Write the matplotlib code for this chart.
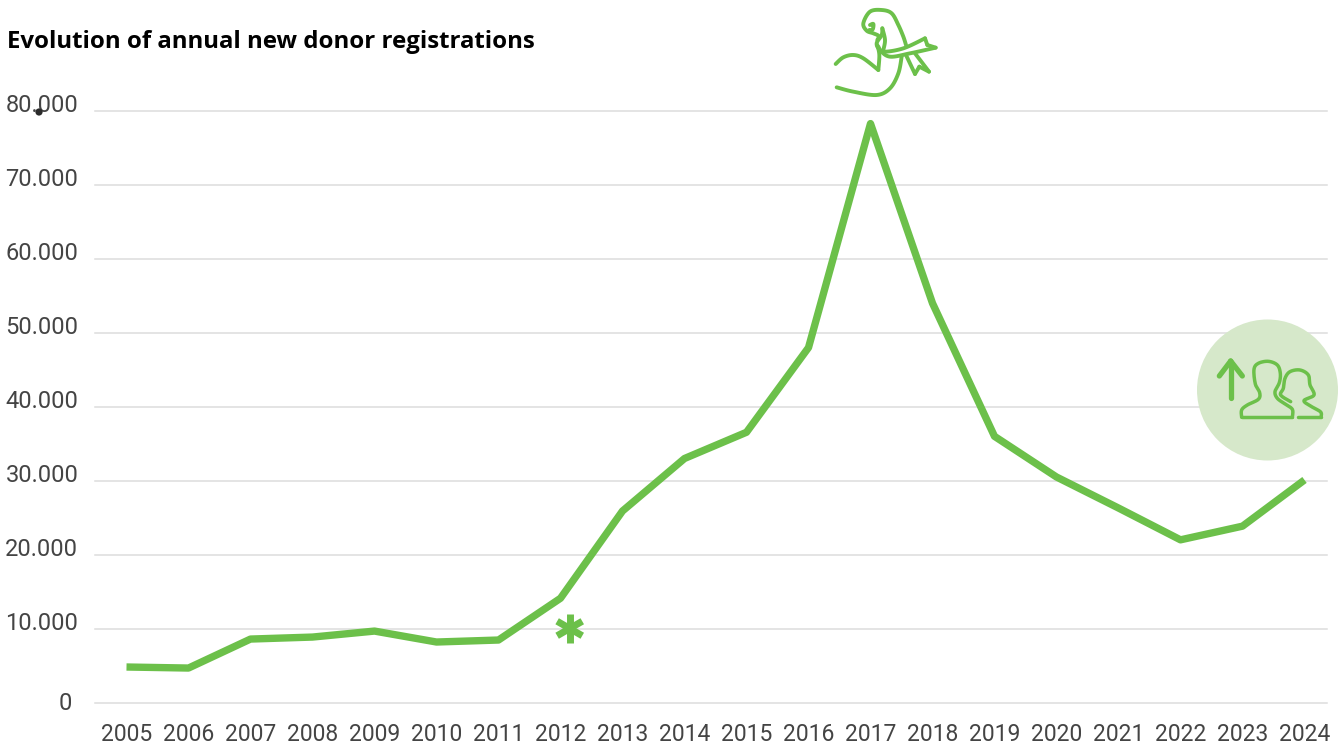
import matplotlib
matplotlib.use('Agg')
import matplotlib.pyplot as plt
import matplotlib.transforms as mtrans
from matplotlib.path import Path
from matplotlib.patches import PathPatch, Circle
import numpy as np

W, H = 1341, 747

# Daten
years = list(range(2005, 2025))
registrations = [4800, 4660, 8580, 8850, 9660, 8180, 8450, 14100, 25900, 33000,
                 36550, 48000, 78300, 54000, 36000, 30500, 26300, 22000, 23850, 30100]
y_ticks = [0, 10000, 20000, 30000, 40000, 50000, 60000, 70000, 80000]
y_labels = ['0', '10.000', '20.000', '30.000', '40.000', '50.000', '60.000', '70.000', '80.000']
title = 'Evolution of annual new donor registrations'

GREEN = '#6cc04a'
PALE = '#d6e8ca'
GRID = '#dcdcdc'
TEXT = '#444444'

fig = plt.figure(figsize=(W / 100, H / 100), dpi=100, facecolor='white')
ax = fig.add_axes([95 / W, 1 - 702.5 / H, (1327 - 95) / W, (702.5 - 111) / H])

# x-Achse so, dass 2005 bei px 126.5 und 2024 bei px 1304.5 liegt
step = (1304.5 - 126.5) / 19
ax.set_xlim(2005 - (126.5 - 95) / step, 2024 + (1327 - 1304.5) / step)
ax.set_ylim(0, 80000)

ax.grid(axis='y', color=GRID, linewidth=1.1, zorder=1, clip_on=False)
ax.set_axisbelow(True)
for s in ax.spines.values():
    s.set_visible(False)
ax.patch.set_visible(False)

ax.set_xticks(years)
ax.set_xticklabels(years, family='Roboto', fontsize=16.5, color=TEXT)
ax.set_yticks(y_ticks)
ax.set_yticklabels(y_labels, family='Roboto', fontsize=17, color=TEXT)
ax.tick_params(length=0)
ax.tick_params(axis='x', pad=15)
ax.tick_params(axis='y', pad=12)

# y-Beschriftungen sitzen etwas ueber der Linie
for lab, v in zip(ax.get_yticklabels(), y_ticks):
    dy = 1 if v == 0 else 8
    dx = -6 if v == 0 else 0
    lab.set_transform(lab.get_transform() + mtrans.Affine2D().translate(dx, dy))

ax.set_zorder(1)
ax.plot(years, registrations, color=GREEN, linewidth=5.3, solid_joinstyle='round',
        solid_capstyle='butt', zorder=3)

fig.text(7 / W, 1 - 48 / H, title, family='Open Sans', fontweight='bold', fontsize=17.3, color='black')

# Overlay in Pixelkoordinaten fuer die Icons
ov = fig.add_axes([0, 0, 1, 1], zorder=2)
ov.set_xlim(0, W)
ov.set_ylim(H, 0)
ov.axis('off')


def spline(pts, x0, y0):
    # Catmull-Rom durch die Stuetzpunkte (Zoom-Koordinaten, Faktor 3)
    p = np.array(pts, dtype=float) / 3 + [x0, y0]
    if len(p) < 3:
        return Path(p)
    p = np.vstack([p[0], p, p[-1]])
    out = []
    for i in range(1, len(p) - 2):
        for t in np.linspace(0, 1, 12, endpoint=False):
            out.append(0.5 * (2 * p[i] + (p[i + 1] - p[i - 1]) * t
                              + (2 * p[i - 1] - 5 * p[i] + 4 * p[i + 1] - p[i + 2]) * t ** 2
                              + (3 * p[i] - p[i - 1] - 3 * p[i + 1] + p[i + 2]) * t ** 3))
    out.append(p[-2])
    return Path(np.array(out))


def stroke(pts, x0, y0, lw):
    ov.add_patch(PathPatch(spline(pts, x0, y0), fill=False, edgecolor=GREEN, linewidth=lw,
                           capstyle='round', joinstyle='round'))


# Kreis hinter dem Personen-Icon
ov.add_patch(Circle((1267.5, 390), 70.5, facecolor=PALE, edgecolor='none'))

# Pfeil
stroke([(122, 265), (122, 155)], 1190, 310, 3.8)
stroke([(88, 198), (122, 153)], 1190, 310, 3.8)
stroke([(122, 153), (157, 198)], 1190, 310, 3.8)

# Person vorne und hinten
person1 = [[(155, 322), (155, 300), (172, 285), (205, 268), (209, 248), (196, 222), (192, 178),
            (205, 160), (235, 154), (262, 165), (271, 190), (268, 218), (255, 245), (262, 265),
            (285, 282), (307, 298), (307, 322)],
           [(307, 322), (155, 322)]]
person2 = [[(325, 322), (393, 322)],
           [(393, 322), (392, 306), (365, 290), (342, 272), (372, 255), (360, 225), (355, 195),
            (330, 180), (300, 185), (285, 205), (280, 235), (272, 255), (302, 275)]]
for part in person1 + person2:
    stroke(part, 1190, 310, 2.5)

# Arm mit Schleife oben
muscle = [[(47, 192), (70, 172), (100, 165), (130, 175), (175, 210)],
          [(175, 210), (178, 165), (172, 135)],
          [(172, 120), (176, 108), (160, 100), (140, 92), (130, 70), (150, 35), (185, 30), (215, 40),
           (235, 75), (250, 110), (258, 135)],
          [(150, 75), (160, 72), (158, 88), (148, 90)],
          [(50, 262), (100, 275), (170, 285), (210, 265), (235, 220), (245, 170)],
          [(175, 140), (190, 155), (250, 145), (315, 115)],
          [(315, 115), (322, 135)],
          [(322, 135), (347, 143)],
          [(347, 143), (270, 160), (210, 170), (180, 150), (170, 130), (185, 105), (187, 85)],
          [(187, 85), (195, 120), (190, 150)],
          [(258, 165), (285, 222)],
          [(285, 222), (298, 200)],
          [(298, 200), (327, 215)],
          [(327, 215), (285, 160)]]
for part in muscle:
    stroke(part, 820, 0, 2.8)

# Sternchen bei 2012
for ang in (90, 30, 150):
    c, s = np.cos(np.radians(ang)) * 14.5, np.sin(np.radians(ang)) * 14.5
    ov.plot([569.7 - c, 569.7 + c], [628.5 - s, 628.5 + s], color=GREEN, linewidth=5.0,
            solid_capstyle='butt')

# kleiner Punkt am oberen Label
ov.add_patch(Circle((39, 112), 3.6, facecolor='#2b2b2b', edgecolor='none'))

fig.savefig('out.png', dpi=100)
